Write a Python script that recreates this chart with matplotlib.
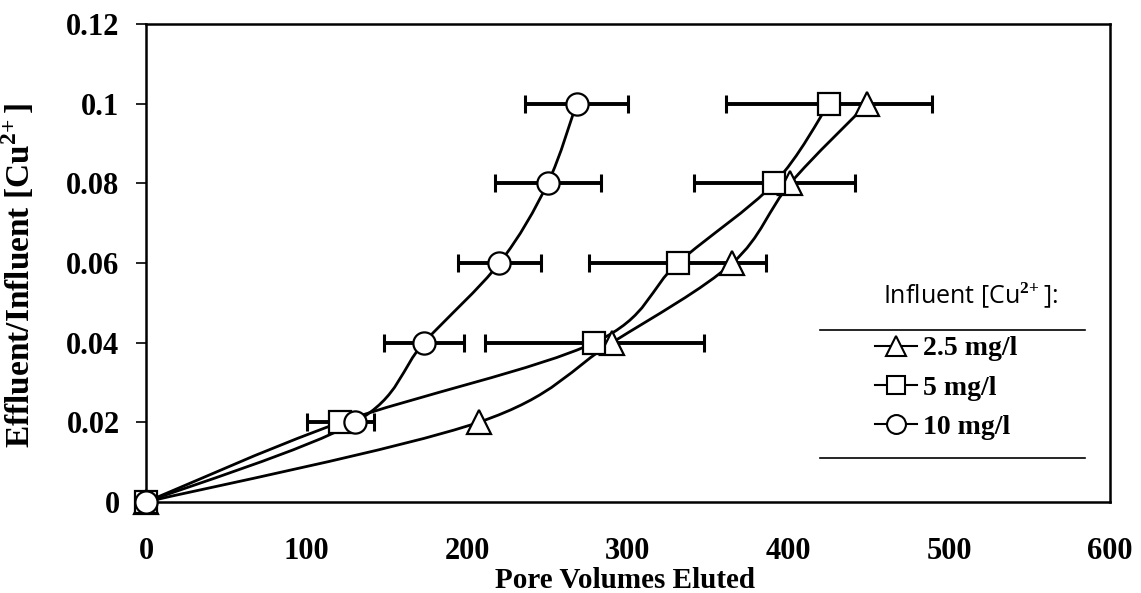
import numpy as np
import matplotlib
matplotlib.use('Agg')
import matplotlib.pyplot as plt
from matplotlib.path import Path
from matplotlib.patches import PathPatch
from matplotlib.lines import Line2D

plt.rcParams['font.family'] = 'Liberation Serif'
plt.rcParams['mathtext.fontset'] = 'custom'
plt.rcParams['mathtext.rm'] = 'Liberation Serif:bold'
plt.rcParams['mathtext.bf'] = 'Liberation Serif:bold'

# data
ratio = [0, 0.02, 0.04, 0.06, 0.08, 0.1]
pv_25 = [0, 207, 290, 365, 401, 449]      # 2.5 mg/l
pv_5 = [0, 121, 279, 331, 391, 425]       # 5 mg/l
err_5 = [0, 21, 68, 55, 50, 64]
pv_10 = [0, 130, 173, 220, 250, 268]      # 10 mg/l
err_10 = [0, 0, 25, 26, 33, 32]

labels = ['2.5 mg/l', '5 mg/l', '10 mg/l']
x_ticks = [0, 100, 200, 300, 400, 500, 600]
y_ticks = [0, 0.02, 0.04, 0.06, 0.08, 0.1, 0.12]
y_ticklabels = ['0', '0.02', '0.04', '0.06', '0.08', '0.1', '0.12']


def smooth_path(xs, ys):
    # excel style smoothed line (catmull-rom as bezier)
    pts = np.column_stack([xs, ys]).astype(float)
    n = len(pts)
    verts = [pts[0]]
    codes = [Path.MOVETO]
    for i in range(n - 1):
        p0 = pts[i - 1] if i > 0 else pts[i]
        p1 = pts[i]
        p2 = pts[i + 1]
        p3 = pts[i + 2] if i + 2 < n else pts[i + 1]
        verts += [p1 + (p2 - p0) / 6, p2 - (p3 - p1) / 6, p2]
        codes += [Path.CURVE4] * 3
    return Path(verts, codes)


fig = plt.figure(figsize=(11.41, 5.93), dpi=100)
ax = fig.add_axes([146 / 1141, 1 - 502 / 593, (1110 - 146) / 1141, (502 - 24) / 593])

# error bars
ax.errorbar(pv_5, ratio, xerr=err_5, fmt='none', ecolor='black', elinewidth=2.8,
            capsize=6.5, capthick=2.2, zorder=2)
ax.errorbar(pv_10, ratio, xerr=err_10, fmt='none', ecolor='black', elinewidth=2.8,
            capsize=6.5, capthick=2.2, zorder=2)

series = [(pv_25, '^', 17), (pv_5, 's', 15.5), (pv_10, 'o', 16)]
for xs, mk, ms in series:
    ax.add_patch(PathPatch(smooth_path(xs, ratio), fill=False, edgecolor='black',
                           lw=2.0, zorder=3))
for xs, mk, ms in series:
    ax.plot(xs, ratio, linestyle='none', marker=mk, ms=ms, mfc='white', mec='black',
            mew=1.6, zorder=4, clip_on=False)

ax.set_xlim(0, 600)
ax.set_ylim(0, 0.12)
ax.set_xticks(x_ticks)
ax.set_xticklabels([str(v) for v in x_ticks])
ax.set_yticks(y_ticks)
ax.set_yticklabels(y_ticklabels)
ax.tick_params(axis='x', length=0, pad=25, labelsize=22)
ax.tick_params(axis='y', length=7, width=1.2, pad=12, labelsize=22, direction='out')
for lab in ax.get_xticklabels() + ax.get_yticklabels():
    lab.set_fontweight('bold')
for sp in ax.spines.values():
    sp.set_linewidth(1.8)

ax.set_xlabel('Pore Volumes Eluted', fontsize=21, fontweight='bold')
ax.xaxis.set_label_coords(0.497, -0.135)
ax.set_ylabel(r'Effluent/Influent [Cu$^{2\!+}$]', fontsize=24, fontweight='bold')
ax.yaxis.set_label_coords(-0.113, 0.475)

# legend
handles = []
for xs, mk, ms in series:
    handles.append(Line2D([], [], color='black', lw=1.5, marker=mk, ms=ms * 0.85,
                          mfc='white', mec='black', mew=1.5))
ax.text(0.855, 0.431, r'Influent [Cu$^{2\!+}$]:', transform=ax.transAxes,
        ha='center', va='center', fontsize=18, family='Open Sans')
ax.plot([0.699, 0.974], [0.360, 0.360], transform=ax.transAxes, color='black', lw=1.2,
        clip_on=False)
ax.plot([0.699, 0.974], [0.092, 0.092], transform=ax.transAxes, color='black', lw=1.2,
        clip_on=False)
ax.legend(handles, labels, loc='upper center', bbox_to_anchor=(0.83, 0.40),
          frameon=False, handlelength=1.5, handletextpad=0.2, labelspacing=0.5,
          prop={'family': 'Liberation Serif', 'weight': 'bold', 'size': 20})

fig.savefig('out.png', dpi=100)
